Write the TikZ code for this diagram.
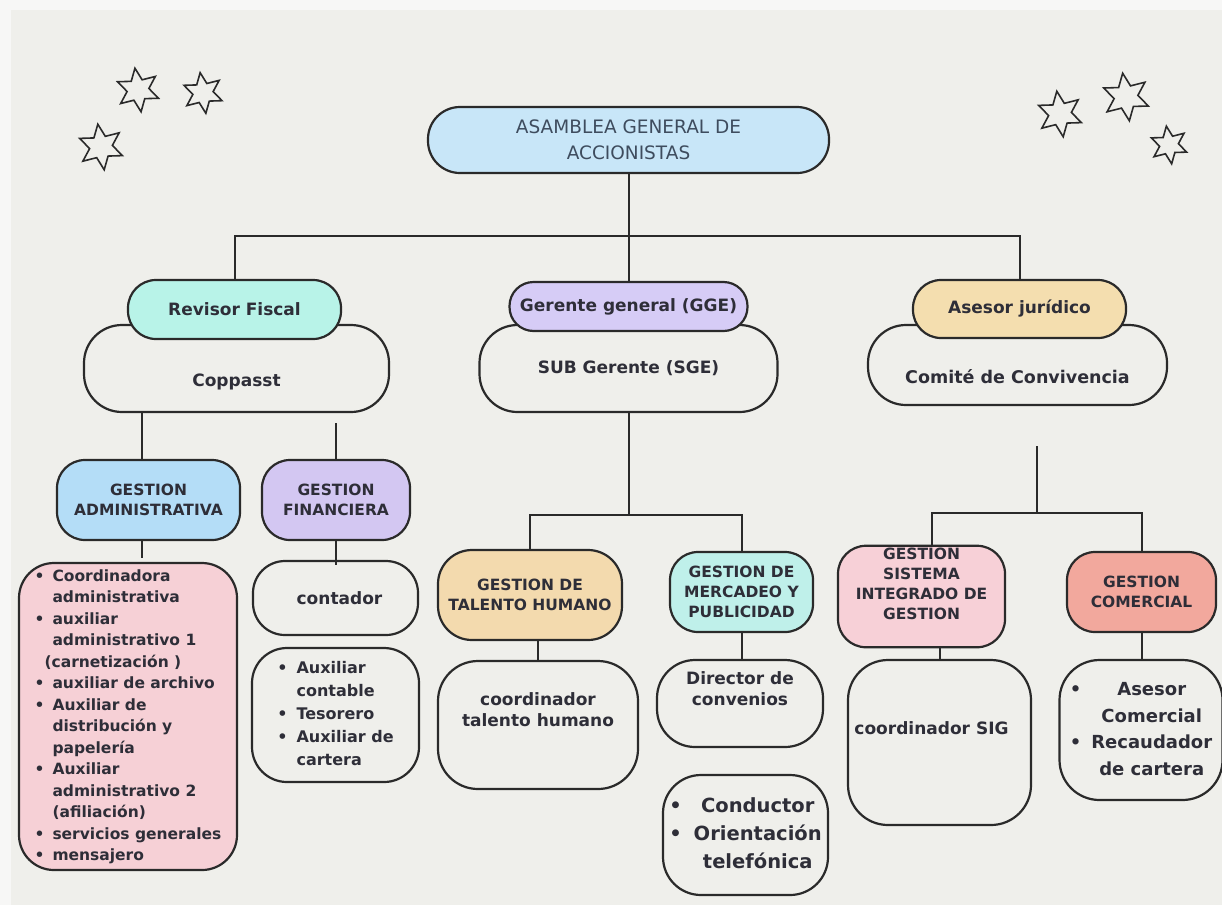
\documentclass[tikz,border=0pt]{standalone}
\usepackage{fontspec}
\setmainfont{DejaVu Sans}
\usepackage{tikz}
\usetikzlibrary{positioning,shapes.geometric}

\definecolor{fondo}{HTML}{EFEFEB}
\definecolor{borde}{HTML}{F7F7F6}
\definecolor{trazo}{HTML}{2A2A2A}
\definecolor{tinta}{HTML}{2E2E38}
\definecolor{tintatit}{HTML}{3E4C5E}
\definecolor{azultit}{HTML}{C8E6F8}
\definecolor{menta}{HTML}{B8F3E8}
\definecolor{lila}{HTML}{D6CCF6}
\definecolor{durazno}{HTML}{F4DEAF}
\definecolor{azul}{HTML}{B4DDF7}
\definecolor{lila2}{HTML}{D3C7F2}
\definecolor{durazno2}{HTML}{F3DAAE}
\definecolor{menta2}{HTML}{BFF0EA}
\definecolor{rosa}{HTML}{F7D0D7}
\definecolor{salmon}{HTML}{F2A89D}
\definecolor{rosalista}{HTML}{F6D0D6}

\begin{document}
\begin{tikzpicture}[x=1pt,y=-1pt,
    linea/.style={draw=trazo,line width=2pt},
    caja/.style={draw=trazo,line width=2.2pt,align=center,text=tinta,inner sep=2pt,
        font=\bfseries\fontsize{17}{21}\selectfont},
    tam/.style 2 args={minimum width=#1,minimum height=#2},
    cargo/.style={caja,fill=#1,rounded corners=28pt},
    area/.style={caja,fill=#1,rounded corners=28pt,font=\bfseries\fontsize{15.5}{20}\selectfont},
    grupo/.style={caja,fill=fondo,rounded corners=#1},
    estrella/.style={star,star points=6,star point ratio=2,draw=trazo,line width=1.6pt,
        inner sep=0pt,shape border rotate=8}]
    % fondo y margenes
    \fill[borde] (0,0) rectangle (1222,905);
    \fill[fondo] (11,10) rectangle (1222,905);
    \useasboundingbox (0,0) rectangle (1222,905);

    % estrellas
    \foreach \x/\y/\d/\n in {138/90/44/1,203/93/41/2,101/147/46/3,
                             1060/114/46/4,1126/97/48/5,1169/145/38/6}
        \node[estrella,minimum size=\d] (est\n) at (\x,\y) {};

    % nivel superior
    \node[caja,fill=azultit,rounded corners=32pt,tam={401}{66},text=tintatit,
        font=\fontsize{18.5}{26}\selectfont] (asamblea) at (628.5,140)
        {ASAMBLEA GENERAL DE\\ACCIONISTAS};

    \node[grupo=38pt,tam={305}{87},label={[yshift=-13pt,text=tinta,
        font=\bfseries\fontsize{17}{21}\selectfont]center:Coppasst}] (coppasst) at (236.5,368.5) {};
    \node[cargo=menta,tam={213}{59}] (revisor) at (234.5,309.5) {Revisor Fiscal};

    \node[grupo=38pt,tam={298}{87}] (sub) at (628.5,368.5) {SUB Gerente (SGE)};
    \node[cargo=lila,tam={238}{49},rounded corners=24pt] (gerente) at (628.5,306.5) {Gerente general (GGE)};

    \node[grupo=38pt,tam={299}{80},label={[yshift=-12pt,text=tinta,
        font=\bfseries\fontsize{17.5}{21}\selectfont]center:Comité de Convivencia}] (comite) at (1017.5,365) {};
    \node[cargo=durazno,tam={213}{58}] (asesor) at (1019.5,309) {Asesor jurídico};

    \draw[linea] (asamblea.south) -- (gerente.north);
    \draw[linea] (revisor.north) -- ++(0,-43) -| (asesor.north);

    % rama izquierda
    \node[area=azul,tam={183}{80}] (gadmin) at (148.5,500) {GESTION\\ADMINISTRATIVA};
    \node[area=lila2,tam={148}{80}] (gfin) at (336,500) {GESTION\\FINANCIERA};
    \node[grupo=35pt,fill=rosalista,tam={218}{307},font=\bfseries\fontsize{15.5}{21.5}\selectfont]
        (listaadmin) at (128,716.5) {%
        \begin{tabular}{@{}c@{\hspace{8pt}}l@{}}
        \textbullet & Coordinadora\\
                    & administrativa\\
        \textbullet & auxiliar\\
                    & administrativo 1\\
                    & \hspace*{-8pt}(carnetización )\\
        \textbullet & auxiliar de archivo\\
        \textbullet & Auxiliar de\\
                    & distribución y\\
                    & papelería\\
        \textbullet & Auxiliar\\
                    & administrativo 2\\
                    & (afiliación)\\
        \textbullet & servicios generales\\
        \textbullet & mensajero
        \end{tabular}};
    \node[grupo=32pt,tam={165}{74}] (contador) at (335.5,598) {\hspace*{8pt}contador};
    \node[grupo=35pt,tam={167}{134},font=\bfseries\fontsize{16}{23}\selectfont]
        (listafin) at (335.5,715) {%
        \begin{tabular}{@{}c@{\hspace{9pt}}l@{}}
        \textbullet & Auxiliar\\
                    & contable\\
        \textbullet & Tesorero\\
        \textbullet & Auxiliar de\\
                    & cartera
        \end{tabular}};

    \draw[linea] ([xshift=-6.5pt]gadmin.north) -- ([xshift=-6.5pt]gadmin.north |- coppasst.south);
    \draw[linea] (gfin.north) -- ([yshift=-10pt]gfin.north |- coppasst.south);
    \draw[linea] ([xshift=-6.5pt]gadmin.south) -- ++(0,17);
    \draw[linea] (gfin.south) -- ([yshift=-5pt]gfin.south |- contador.north);

    % rama central
    \node[area=durazno2,tam={184}{90},rounded corners=34pt] (gth) at (530,595) {GESTION DE\\TALENTO HUMANO};
    \node[area=menta2,tam={143}{80}] (gmp) at (741.5,592) {GESTION DE\\MERCADEO Y\\PUBLICIDAD};
    \node[grupo=40pt,tam={200}{128}] (coordth) at (538,725) {coordinador\\talento humano\\[10pt]};
    \node[grupo=38pt,tam={166}{87}] (director) at (740,703.5) {Director de\\convenios\\[8pt]};
    \node[grupo=38pt,tam={165}{120},font=\bfseries\fontsize{19.5}{28}\selectfont]
        (listamerc) at (745.5,835) {%
        \begin{tabular}{@{}l@{\hspace{12pt}}c@{}}
        \textbullet & Conductor\\
        \textbullet & Orientación\\
                    & telefónica
        \end{tabular}};

    \draw[linea] (sub.south) -- ++(0,102) coordinate (bifm);
    \draw[linea] (gth.north) |- (bifm) -| (gmp.north);
    \draw[linea] (coordth.north) -- (coordth.north |- gth.south);
    \draw[linea] (gmp.south) -- (gmp.south |- director.north);

    % rama derecha
    \node[area=rosa,tam={167}{89},font=\bfseries\fontsize{15.5}{20}\selectfont] (gsig) at (921.5,596.5)
        {GESTION\\SISTEMA\\INTEGRADO DE\\GESTION\\[6pt]};
    \node[area=salmon,tam={149}{80}] (gcom) at (1141.5,592) {GESTION\\COMERCIAL};
    \node[grupo=40pt,tam={183}{165}] (coordsig) at (939.5,742.5) {coordinador SIG\hspace*{16pt}\\[8pt]};
    \node[grupo=40pt,tam={163}{140},font=\bfseries\fontsize{18}{26.5}\selectfont]
        (listacom) at (1141,730) {%
        \begin{tabular}{@{}l@{\hspace{10pt}}c@{}}
        \textbullet & Asesor\\
                    & Comercial\\
        \textbullet & Recaudador\\
                    & de cartera
        \end{tabular}};

    \draw[linea] ([xshift=19.5pt,yshift=-40pt]comite.south) -- ++(0,67) coordinate (bifd);
    \draw[linea] ([xshift=10.5pt]gsig.north) |- (bifd) -| (gcom.north);
    \draw[linea] (coordsig.north) -- (coordsig.north |- gsig.south);
    \draw[linea] (gcom.south) -- (gcom.south |- listacom.north);
\end{tikzpicture}
\end{document}
